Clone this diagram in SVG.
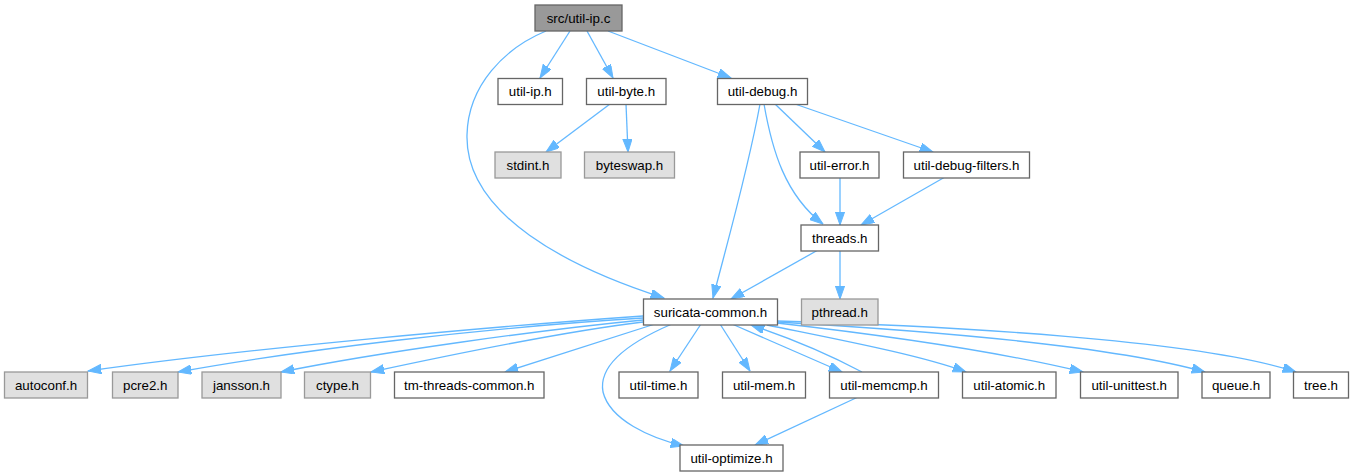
<svg xmlns="http://www.w3.org/2000/svg" width="1354" height="476" viewBox="0 0 1354 476">
<style>
.n rect{fill:#ffffff;stroke:#666666;stroke-width:1.3}
.g rect{fill:#e0e0e0;stroke:#999999;stroke-width:1.3}
.root rect{fill:#999999;stroke:#666666;stroke-width:1.3}
text{font-family:"Liberation Sans",Arial,sans-serif;font-size:13.33px;fill:#000000;text-anchor:middle}
#edges path{fill:none;stroke:#63b8ff;stroke-width:1.3;marker-end:url(#arr)}
</style>
<defs>
<marker id="arr" markerWidth="14" markerHeight="10" refX="13.3" refY="4.7" orient="auto" markerUnits="userSpaceOnUse">
<path d="M0,0 L13.3,4.7 L0,9.4 z" fill="#63b8ff" stroke="#63b8ff" stroke-width="1"/>
</marker>
</defs>
<rect x="0" y="0" width="1354" height="476" fill="#ffffff"/>
<g id="edges">
<path d="M570,31 L540,78"/>
<path d="M587,31 L613,78"/>
<path d="M608,31 L731,78"/>
<path d="M546,31 C505,48 468,85 467,135 C465,215 570,268 664,298"/>
<path d="M610,104 L546,152"/>
<path d="M626,104 L628,152"/>
<path d="M775,104 L825,152"/>
<path d="M795,104 L933,152"/>
<path d="M764,104 C772,150 785,195 823,224"/>
<path d="M760,104 C748,170 728,240 713,298"/>
<path d="M840,177 L840,225"/>
<path d="M945,177 L861,225"/>
<path d="M818,250 L731,299"/>
<path d="M840,250 L840,299"/>
<path d="M643,316 C500,326 250,348 88,371"/>
<path d="M643,318 C480,328 300,350 178,372"/>
<path d="M643,320 C540,330 380,352 281,372"/>
<path d="M643,322 C560,332 450,355 371,372"/>
<path d="M655,324 L505,372"/>
<path d="M701,324 L670,371"/>
<path d="M720,324 L750,371"/>
<path d="M732,324 L842,372"/>
<path d="M862,372 C830,355 790,338 751,325"/>
<path d="M672,324 C630,342 598,365 603,392 C610,420 650,438 684,446"/>
<path d="M858,397 L755,445"/>
<path d="M767,325 C840,340 920,355 966,372"/>
<path d="M777,323 C900,337 1000,352 1083,372"/>
<path d="M777,322 C950,332 1120,348 1205,372"/>
<path d="M777,321 C950,326 1200,340 1296,372"/>
</g>
<g id="node1" class="root"><rect x="535" y="5" width="87" height="26"/><text x="578.5" y="22.5">src/util-ip.c</text></g>
<g id="node2" class="n"><rect x="498" y="78.5" width="64.5" height="26"/><text x="530.25" y="96">util-ip.h</text></g>
<g id="node3" class="n"><rect x="586.5" y="78.5" width="79.5" height="26"/><text x="626.25" y="96">util-byte.h</text></g>
<g id="node4" class="n"><rect x="717.5" y="78.5" width="90" height="26"/><text x="762.5" y="96">util-debug.h</text></g>
<g id="node5" class="g"><rect x="495" y="152" width="66" height="26"/><text x="528" y="169.5">stdint.h</text></g>
<g id="node6" class="g"><rect x="584.5" y="152" width="90" height="26"/><text x="629.5" y="169.5">byteswap.h</text></g>
<g id="node7" class="n"><rect x="800" y="152" width="79" height="26"/><text x="839.5" y="169.5">util-error.h</text></g>
<g id="node8" class="n"><rect x="903.5" y="152" width="126" height="26"/><text x="966.5" y="169.5">util-debug-filters.h</text></g>
<g id="node9" class="n"><rect x="801" y="225" width="77.5" height="26"/><text x="839.75" y="242.5">threads.h</text></g>
<g id="node10" class="g"><rect x="801.5" y="299" width="76.5" height="26"/><text x="839.75" y="316.5">pthread.h</text></g>
<g id="node11" class="n"><rect x="643.5" y="299" width="134" height="26"/><text x="710.5" y="316.5">suricata-common.h</text></g>
<g id="node12" class="g"><rect x="4.5" y="372" width="83" height="26"/><text x="46" y="389.5">autoconf.h</text></g>
<g id="node13" class="g"><rect x="112.5" y="372" width="65.5" height="26"/><text x="145.25" y="389.5">pcre2.h</text></g>
<g id="node14" class="g"><rect x="202" y="372" width="79" height="26"/><text x="241.5" y="389.5">jansson.h</text></g>
<g id="node15" class="g"><rect x="304.5" y="372" width="66" height="26"/><text x="337.5" y="389.5">ctype.h</text></g>
<g id="node16" class="n"><rect x="394.5" y="372" width="149.5" height="26"/><text x="469.25" y="389.5">tm-threads-common.h</text></g>
<g id="node17" class="n"><rect x="619" y="372" width="79" height="26"/><text x="658.5" y="389.5">util-time.h</text></g>
<g id="node18" class="n"><rect x="722.5" y="372" width="83" height="26"/><text x="764" y="389.5">util-mem.h</text></g>
<g id="node19" class="n"><rect x="829.5" y="372" width="109" height="26"/><text x="884" y="389.5">util-memcmp.h</text></g>
<g id="node20" class="n"><rect x="962.5" y="372" width="93.5" height="26"/><text x="1009.25" y="389.5">util-atomic.h</text></g>
<g id="node21" class="n"><rect x="1080.5" y="372" width="97.5" height="26"/><text x="1129.25" y="389.5">util-unittest.h</text></g>
<g id="node22" class="n"><rect x="1202" y="372" width="68" height="26"/><text x="1236" y="389.5">queue.h</text></g>
<g id="node23" class="n"><rect x="1293.5" y="372" width="55" height="26"/><text x="1321" y="389.5">tree.h</text></g>
<g id="node24" class="n"><rect x="680" y="445" width="103" height="26"/><text x="731.5" y="462.5">util-optimize.h</text></g>
</svg>
